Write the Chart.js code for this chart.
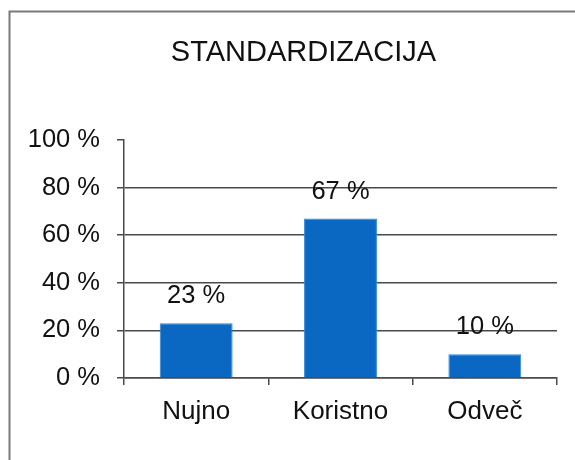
<!DOCTYPE html>
<html>
<head>
<meta charset="utf-8">
<script src="https://cdn.jsdelivr.net/npm/chart.js@4"></script>
<style>
  html, body { margin: 0; padding: 0; background: #fff; }
  #wrap { width: 575px; height: 460px; }
</style>
</head>
<body>
<div id="wrap"><canvas id="c" width="575" height="460"></canvas></div>
<script>
const categories = ['Nujno', 'Koristno', 'Odveč'];
const values = [23, 67, 10];
const valueLabels = ['23 %', '67 %', '10 %'];
const titleText = 'STANDARDIZACIJA';
const yTicks = [0, 20, 40, 60, 80, 100];

const FONT = '"Liberation Sans", Arial, sans-serif';
const AXIS = '#4a4a4a';

const framePlugin = {
  id: 'frame',
  beforeDraw(chart) {
    const ctx = chart.ctx;
    ctx.save();
    ctx.fillStyle = '#fff';
    ctx.fillRect(0, 0, chart.width, chart.height);
    ctx.strokeStyle = '#7a7a7a';
    ctx.lineWidth = 2;
    ctx.beginPath();
    ctx.moveTo(9.5, chart.height + 2);
    ctx.lineTo(9.5, 11.5);
    ctx.lineTo(chart.width + 2, 11.5);
    ctx.stroke();
    ctx.restore();
  },
  afterDraw(chart) {
    const ctx = chart.ctx;
    ctx.save();
    ctx.fillStyle = '#111';
    ctx.font = '29px ' + FONT;
    ctx.textAlign = 'center';
    ctx.textBaseline = 'middle';
    ctx.fillText(titleText, 303.5, 53);
    ctx.restore();
  }
};

const valueLabelPlugin = {
  id: 'valueLabels',
  afterDatasetsDraw(chart) {
    const ctx = chart.ctx;
    const meta = chart.getDatasetMeta(0);
    ctx.save();
    ctx.fillStyle = '#111';
    ctx.font = '25.5px ' + FONT;
    ctx.textAlign = 'center';
    ctx.textBaseline = 'middle';
    meta.data.forEach((bar, i) => {
      ctx.fillText(valueLabels[i], bar.x, bar.y - 27);
    });
    ctx.restore();
  }
};

new Chart(document.getElementById('c'), {
  type: 'bar',
  data: {
    labels: categories,
    datasets: [{
      data: values,
      backgroundColor: '#0A67C2',
      borderColor: '#2F86D8',
      borderWidth: 1,
      categoryPercentage: 1.0,
      barPercentage: 0.505
    }]
  },
  options: {
    responsive: false,
    animation: false,
    layout: { padding: { top: 140, right: 18, bottom: 0, left: 0 } },
    plugins: {
      legend: { display: false },
      title: { display: false },
      tooltip: { enabled: false }
    },
    scales: {
      x: {
        offset: true,
        afterFit(scale) { scale.height = 82; },
        grid: {
          display: true,
          drawOnChartArea: false,
          drawTicks: true,
          tickLength: 7,
          offset: true,
          color: AXIS,
          lineWidth: 1.5
        },
        border: { display: true, color: AXIS, width: 1.5 },
        ticks: {
          color: '#111',
          font: { family: FONT, size: 26 },
          padding: 11,
          maxRotation: 0
        }
      },
      y: {
        min: 0,
        max: 100,
        afterFit(scale) { scale.width = 124; },
        afterBuildTicks(scale) { scale.ticks = yTicks.map(v => ({ value: v })); },
        grid: {
          color: (ctx) => (ctx.tick && ctx.tick.value === 100) ? 'rgba(0,0,0,0)' : AXIS,
          tickColor: AXIS,
          lineWidth: 1.5,
          drawTicks: true,
          tickLength: 7
        },
        border: { display: true, color: AXIS, width: 1.5 },
        ticks: {
          color: '#111',
          font: { family: FONT, size: 25.5 },
          padding: 17,
          callback: (v) => v + ' %'
        }
      }
    }
  },
  plugins: [framePlugin, valueLabelPlugin]
});
</script>
</body>
</html>
